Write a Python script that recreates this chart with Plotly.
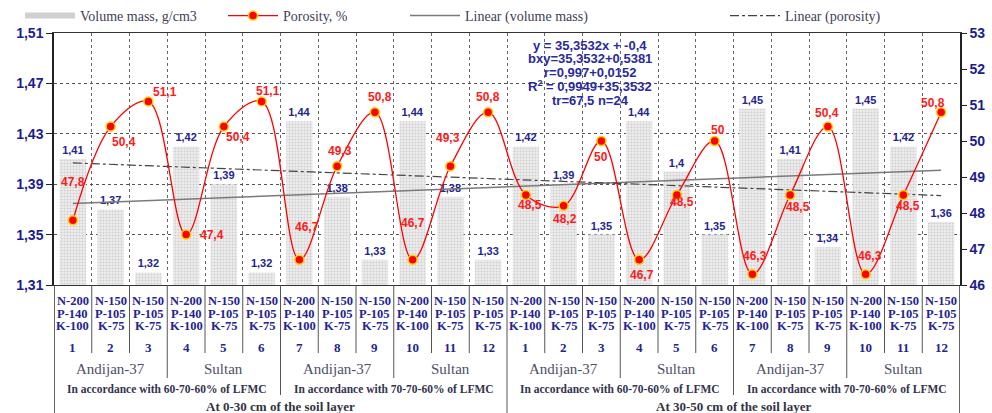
import numpy as np
import plotly.graph_objects as go

# ---------------- data ----------------
volume_mass = [1.41, 1.37, 1.32, 1.42, 1.39, 1.32, 1.44, 1.38, 1.33, 1.44, 1.38, 1.33,
               1.42, 1.39, 1.35, 1.44, 1.40, 1.35, 1.45, 1.41, 1.34, 1.45, 1.42, 1.36]
porosity = [47.8, 50.4, 51.1, 47.4, 50.4, 51.1, 46.7, 49.3, 50.8, 46.7, 49.3, 50.8,
            48.5, 48.2, 50.0, 46.7, 48.5, 50.0, 46.3, 48.5, 50.4, 46.3, 48.5, 50.8]
npk_labels = [["N-200", "P-140", "K-100"], ["N-150", "P-105", "K-75"], ["N-150", "P-105", "K-75"]] * 8
variant_numbers = list(range(1, 13)) * 2
varieties = ["Andijan-37", "Sultan"] * 4
regimes = ["In accordance with 60-70-60% of LFMC", "In accordance with 70-70-60% of LFMC"] * 2
layers = ["At 0-30 cm of the soil layer", "At 30-50 cm of the soil layer"]
equation_lines = ["y = 35,3532x + -0,4", "bxy=35,3532+0,5381", "r=0,997+0,0152",
                  "R<sup>2</sup> = 0,9949+35,3532", "tr=67,5 n=24"]
# pixel offsets of porosity labels relative to their points (style)
por_label_shift = [(0, 38), (13, -15), (17, 9), (26, 0), (14, -10), (6, 10), (8, 33), (3, 15),
                   (5, 15), (0, 37), (-2, 28), (0, 15), (4, -10), (1, -13), (0, -16), (3, -15),
                   (5, -7), (3, 11), (3, 18), (8, -12), (-1, 14), (4, 18), (5, -11), (-8, 9)]

n = len(volume_mass)
x = np.arange(1, n + 1)

def fmt(v):
    s = ("%.2f" % v).rstrip("0").rstrip(".")
    return s.replace(".", ",")

# trend lines from data (least squares)
vm_fit = np.polyfit(x, volume_mass, 1)
por_fit = np.polyfit(x, porosity, 1)
vm_trend = np.polyval(vm_fit, x)
por_trend = np.polyval(por_fit, x)

NAVY = "#24248f"
RED = "#ff1a1a"
SERIF = "Liberation Serif"
SANS = "Liberation Sans"

fig = go.Figure()

fig.add_trace(go.Bar(
    x=x, y=volume_mass, width=0.7, showlegend=False,
    marker=dict(color="#ececec", line=dict(width=0),
                pattern=dict(shape=".", fgcolor="#b0b0b0", bgcolor="#eeeeee", size=3, solidity=0.4)),
    text=[fmt(v) for v in volume_mass], textposition="outside",
    textfont=dict(family=SANS, size=11, color=NAVY, weight="bold"),
    cliponaxis=False, yaxis="y"))

# legend proxy for bars
fig.add_trace(go.Scatter(
    x=[None], y=[None], mode="lines", name="Volume mass, g/cm3",
    line=dict(color="#d0d0d0", width=6), legend="legend"))

fig.add_trace(go.Scatter(
    x=x, y=vm_trend, mode="lines", name="Linear (volume mass)",
    line=dict(color="#7a7a7a", width=1.5), yaxis="y", legend="legend3"))

fig.add_trace(go.Scatter(
    x=x, y=por_trend, mode="lines", name="Linear (porosity)",
    line=dict(color="#444444", width=1.2, dash="dashdot"), yaxis="y2", legend="legend4"))

fig.add_trace(go.Scatter(
    x=x, y=porosity, mode="lines+markers", name="Porosity, %",
    line=dict(color="#ff0000", width=1.3, shape="spline", smoothing=1.0),
    marker=dict(color="#ff0000", size=9, line=dict(color="#ffd000", width=1.5)),
    yaxis="y2", legend="legend2", cliponaxis=False))

ann = []
for i, (v, (dx, dy)) in enumerate(zip(porosity, por_label_shift)):
    ann.append(dict(x=x[i], y=v, xref="x", yref="y2", text=fmt(v), showarrow=False,
                    xshift=dx, yshift=dy,
                    font=dict(family=SANS, size=12, color=RED, weight="bold")))

# bottom multi-level category labels
TOP, BOT, H = 33, 285, 252

def py(p):
    return (BOT - p) / H

for i in range(n):
    for j, t in enumerate(npk_labels[i]):
        ann.append(dict(x=x[i], y=py(301 + 12.6 * j), xref="x", yref="paper", text=t,
                        showarrow=False, yanchor="middle",
                        font=dict(family=SERIF, size=12.5, color=NAVY, weight="bold")))
    ann.append(dict(x=x[i], y=py(347), xref="x", yref="paper", text=str(variant_numbers[i]),
                    showarrow=False, yanchor="middle",
                    font=dict(family=SERIF, size=13, color=NAVY, weight="bold")))
for k, t in enumerate(varieties):
    ann.append(dict(x=3 * k + 2, y=py(369), xref="x", yref="paper", text=t, showarrow=False,
                    yanchor="middle", font=dict(family=SERIF, size=15, color="#4e4e6a")))
for k, t in enumerate(regimes):
    ann.append(dict(x=6 * k + 3.5, y=py(389), xref="x", yref="paper", text=t, showarrow=False,
                    yanchor="middle", font=dict(family=SERIF, size=11.5, color="#33334f", weight="bold")))
for k, t in enumerate(layers):
    ann.append(dict(x=12 * k + 6.5, y=py(406), xref="x", yref="paper", text=t, showarrow=False,
                    yanchor="middle", font=dict(family=SERIF, size=13, color="#33333f", weight="bold")))

for j, t in enumerate(equation_lines):
    ann.append(dict(x=14.7, y=py(45 + 13.8 * j), xref="x", yref="paper", text=t,
                    showarrow=False, yanchor="middle", align="center",
                    font=dict(family=SANS, size=13, color="#2a2a9c", weight="bold")))

shapes = []
for b in np.arange(1.5, n, 1.0):
    if b % 12 == 0.5:
        end = 413
    elif b % 6 == 0.5:
        end = 395
    elif b % 3 == 0.5:
        end = 378
    else:
        end = 353
    shapes.append(dict(type="line", xref="x", yref="paper", x0=b, x1=b, y0=py(BOT), y1=py(end),
                       line=dict(color="#555555", width=1)))
for b in (0.5, n + 0.5):
    shapes.append(dict(type="line", xref="x", yref="paper", x0=b, x1=b, y0=py(BOT), y1=py(413),
                       line=dict(color="#333333", width=1.5)))

leg_common = dict(orientation="h", yanchor="middle", xanchor="left", y=py(16),
                  bgcolor="rgba(0,0,0,0)", itemwidth=50,
                  font=dict(family=SERIF, size=14, color="#404058"))

def lx(p):
    return (p - 54) / 906

fig.update_layout(
    width=992, height=413,
    margin=dict(l=54, r=32, t=33, b=128, autoexpand=False),
    paper_bgcolor="white", plot_bgcolor="white",
    separators=", ",
    bargap=0.3,
    xaxis=dict(range=[0.5, n + 0.5], tickvals=list(np.arange(1.5, n, 1.0)), showticklabels=False,
               ticks="", showgrid=True, gridcolor="#666666", griddash="dot", gridwidth=1,
               showline=True, linecolor="#333333", linewidth=1.2, mirror=True, zeroline=False),
    yaxis=dict(range=[1.31, 1.51], tickvals=[1.31, 1.35, 1.39, 1.43, 1.47, 1.51], tickformat=".2f",
               showgrid=True, gridcolor="#555555", griddash="dot", gridwidth=1,
               ticks="outside", ticklen=6, tickcolor="#222222",
               showline=True, linecolor="#222222", linewidth=1.5, zeroline=False,
               tickfont=dict(family=SANS, size=14, color="#1c1c8c", weight="bold")),
    yaxis2=dict(range=[46, 53], dtick=1, overlaying="y", side="right", showgrid=False,
                ticks="outside", ticklen=5, tickcolor="#222222", ticklabelstandoff=0,
                showline=True, linecolor="#222222", linewidth=1.5, zeroline=False,
                tickfont=dict(family=SANS, size=14, color="#1c1c8c", weight="bold")),
    legend=dict(leg_common, x=lx(20)),
    legend2=dict(leg_common, x=lx(223)),
    legend3=dict(leg_common, x=lx(405)),
    legend4=dict(leg_common, x=lx(725)),
    annotations=ann, shapes=shapes,
)

fig.write_html("out.html", config={"displayModeBar": False},
               post_script="document.body.style.margin='0';document.body.style.overflow='hidden';")
